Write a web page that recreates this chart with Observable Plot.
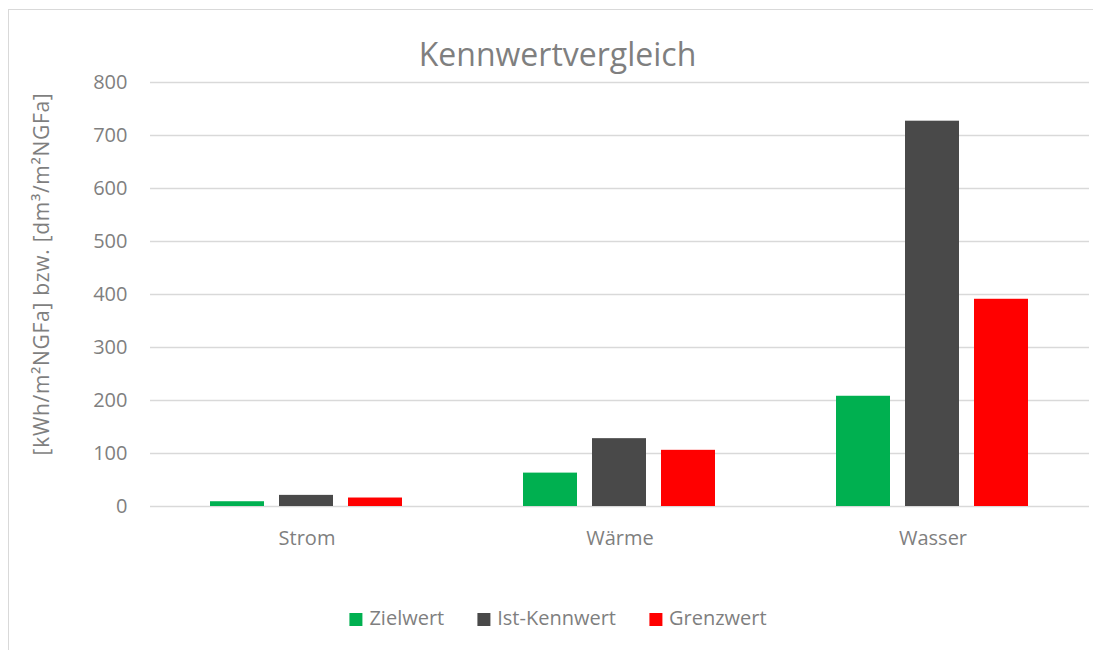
<!DOCTYPE html>
<html>
<head>
<meta charset="utf-8">
<script src="https://cdn.jsdelivr.net/npm/d3@7"></script>
<script src="https://cdn.jsdelivr.net/npm/@observablehq/plot@0.6"></script>
<style>
  html, body { margin: 0; padding: 0; background: white; overflow: hidden; }
  #wrap { position: relative; width: 1093px; height: 650px; overflow: hidden; font-family: "Open Sans", sans-serif; color: #7f7f7f; }
  #frame { position: absolute; left: 8px; top: 9px; width: 1100px; height: 660px; border: 1px solid #d9d9d9; box-sizing: border-box; pointer-events: none; }
  #chart { position: absolute; left: 0; top: 0; }
  #title { position: absolute; left: 557.5px; top: 38px; transform: translateX(-50%); font-size: 32px; line-height: 32px; white-space: nowrap; }
  #ylabel { position: absolute; left: 41px; top: 273.5px; transform: translate(-50%, -50%) rotate(-90deg); font-size: 21px; letter-spacing: 0.7px; line-height: 21px; white-space: nowrap; }
  #legend { position: absolute; left: 558px; top: 608px; transform: translateX(-50%); display: flex; gap: 33px; font-size: 20px; line-height: 20px; white-space: nowrap; }
  .item { display: flex; align-items: center; }
  .sw { width: 13px; height: 13px; margin-right: 7px; margin-top: 2px; }
</style>
</head>
<body>
<div id="wrap">
  <div id="chart"></div>
  <div id="frame"></div>
  <div id="title">Kennwertvergleich</div>
  <div id="ylabel">[kWh/m²NGFa] bzw. [dm³/m²NGFa]</div>
  <div id="legend"></div>
</div>
<script>
const categories = ["Strom", "Wärme", "Wasser"];
const seriesNames = ["Zielwert", "Ist-Kennwert", "Grenzwert"];
const zielwert = [9, 63, 208];
const istKennwert = [21, 128, 727];
const grenzwert = [16, 106, 391];
const yTicks = [0, 100, 200, 300, 400, 500, 600, 700, 800];
const seriesColors = ["#00b050", "#494949", "#ff0000"];

const seriesValues = [zielwert, istKennwert, grenzwert];
const data = categories.flatMap((c, i) =>
  seriesNames.map((s, j) => ({category: c, series: s, value: seriesValues[j][i]}))
);

const chart = Plot.plot({
  width: 1093,
  height: 650,
  marginTop: 82,
  marginBottom: 144,
  marginLeft: 210,
  marginRight: 63,
  style: {fontFamily: "Open Sans", fontSize: "20px", color: "#7f7f7f", background: "transparent"},
  fx: {domain: categories, paddingInner: 0.383, paddingOuter: 0, label: null, tickSize: 0, tickPadding: 24, axis: "bottom"},
  x: {domain: seriesNames, paddingInner: 0.217, paddingOuter: 0, axis: null},
  y: {domain: [0, 800], ticks: yTicks, tickSize: 0, tickPadding: 83, label: null},
  color: {domain: seriesNames, range: seriesColors},
  marks: [
    Plot.ruleY(yTicks, {stroke: "#d9d9d9", strokeWidth: 1.5, insetLeft: -60, insetRight: -60}),
    Plot.barY(data, {fx: "category", x: "series", y: "value", fill: "series"})
  ]
});
document.getElementById("chart").appendChild(chart);

const legend = document.getElementById("legend");
seriesNames.forEach((s, i) => {
  const item = document.createElement("div");
  item.className = "item";
  const sw = document.createElement("div");
  sw.className = "sw";
  sw.style.background = seriesColors[i];
  const label = document.createElement("span");
  label.textContent = s;
  item.appendChild(sw);
  item.appendChild(label);
  legend.appendChild(item);
});
</script>
</body>
</html>
